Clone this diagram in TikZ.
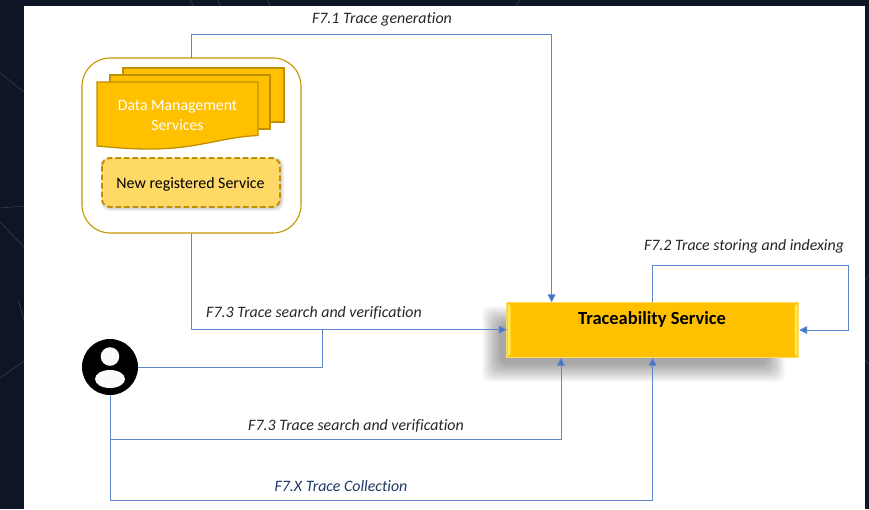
\documentclass[tikz,border=0pt]{standalone}
\usepackage{fontspec}
\setmainfont{Carlito}[Ligatures=NoCommon]
\usetikzlibrary{arrows.meta,calc}
\definecolor{bgdark}{HTML}{0E1626}
\definecolor{bgline}{HTML}{3A4252}
\definecolor{linkblue}{HTML}{4472C4}
\definecolor{gold}{HTML}{FFC000}
\definecolor{goldedge}{HTML}{BF9000}
\definecolor{lightgold}{HTML}{FFD966}
\definecolor{bevel}{HTML}{FFE94D}
\definecolor{navytext}{HTML}{1F3864}
\tikzset{
  x=1pt,y=-1pt,
  link/.style={draw=linkblue!85!white,line width=0.9pt},
  linkarrow/.style={link,-{Triangle[length=8pt,width=8pt,fill=linkblue]}},
  flowlabel/.style={font=\itshape\fontsize{15.9}{18}\selectfont,text=black!85,inner sep=0pt},
  docsheet/.style={draw=goldedge,line width=1.3pt,fill=gold},
  boxlabel/.style={inner sep=0pt,align=center}
}
\begin{document}
\begin{tikzpicture}
\useasboundingbox (0,0) rectangle (869,509);
\fill[bgdark] (0,0) rectangle (869,509);
\draw[bgline,line width=0.5pt] (0,73) -- (24,92) (0,208) -- (24,206) (0,222) -- (24,247) (0,378) -- (24,361) (18,300) -- (24,320);
\draw[bgline,line width=0.5pt] (190,0) -- (193,6) (218,0) -- (220,6) (268,0) -- (270,6) (520,0) -- (516,6) (865,280) -- (869,275) (865,360) -- (869,364);
\fill[white] (24,6) rectangle (865,509);
% connector anchors
\coordinate (groupTop) at (191.7,58);
\coordinate (groupBot) at (191.7,234);
\coordinate (c1) at (191.7,34.6);
\coordinate (c2) at (551.6,34.6);
\coordinate (c3) at (191.7,329.6);
\coordinate (c4) at (322.6,367);
\coordinate (c5) at (322.6,329.6);
\coordinate (c6) at (110,439);
\coordinate (c7) at (561,439);
\coordinate (c8) at (110,500);
\coordinate (c9) at (652.6,500);
\coordinate (c10) at (652.6,265.6);
\coordinate (c11) at (848.6,265.6);
\coordinate (c12) at (848.6,330);
% service shadow
\foreach \g in {-9,-8,...,9}{
  \fill[black,opacity=0.02,rounded corners=8pt] (491-\g,315-\g) rectangle (776+\g,373+\g);
}
% service box
\node[draw=none,fill=gold,minimum width=291pt,minimum height=55pt,inner sep=0pt] (svc) at (652.5,330) {};
\draw[lightgold,line width=1pt] (svc.south west) rectangle (svc.north east);
\fill[bevel] (507.5,303) -- (510.5,306) -- (510.5,354) -- (507.5,357) -- cycle;
\fill[bevel] (797.5,303) -- (794.5,306) -- (794.5,354) -- (797.5,357) -- cycle;
\node[boxlabel,font=\bfseries\fontsize{18.5}{20}\selectfont] (svcl) at (652,319.5) {Traceability Service};
% group
\draw[draw=goldedge!90!gold,line width=1.1pt,rounded corners=28pt,fill=white] (82,58) rectangle (301,233);
\node[inner sep=0pt,minimum size=0pt] (group) at (191.5,145.5) {};
% documents
\draw[docsheet] (123,68) rectangle (284,122);
\draw[docsheet] (110,75) rectangle (270,129);
\draw[docsheet] (97,82) -- (258,82) -- (258,135.5) .. controls (222,137) and (198,149) .. (150,149) .. controls (125,149) and (110,147) .. (97,146) -- cycle;
\node[boxlabel,text=white,font=\fontsize{15.8}{20}\selectfont] (dms) at (177.5,115.5) {Data Management\\[-0.5pt]Services};
% new service
\foreach \g in {-3,-2,...,3}{
  \fill[black,opacity=0.05,rounded corners=8pt] (104-\g,160-\g) rectangle (281+\g,208+\g);
}
\draw[draw=goldedge,line width=1.9pt,dash pattern=on 5.5pt off 3pt,fill=lightgold,rounded corners=8pt] (102,158) rectangle (280,207);
\node[boxlabel,text=black,font=\fontsize{15.9}{17}\selectfont] (newsvc) at (190.5,184) {New registered Service};
% person
\node[circle,fill=black,minimum size=56pt,inner sep=0pt] (user) at (110,367) {};
\fill[white!98!black] (110,356.5) circle (9.3pt);
\fill[white!98!black] (110,379) ellipse (15pt and 9pt);
% connectors
\draw[linkarrow] (groupTop) -- (c1) -- (c2) -- (c2 |- svc.north);
\draw[linkarrow] (groupBot) -- (c3) -- (c3 -| svc.west);
\draw[link] (user.east) -- (c4) -- (c5);
\draw[linkarrow] (user.south) -- (c6) -- (c7) -- (c7 |- svc.south);
\draw[linkarrow] (c6) -- (c8) -- (c9) -- (c9 |- svc.south);
\draw[linkarrow] (c10 |- svc.north) -- (c10) -- (c11) -- (c12) -- ($(c12 -| svc.east)+(1,0)$);
% labels
\node[flowlabel] (l1) at (382,19.5) {F7.1 Trace generation};
\node[flowlabel] (l2) at (744,246.5) {F7.2 Trace storing and indexing};
\node[flowlabel] (l3) at (314,312.5) {F7.3 Trace search and verification};
\node[flowlabel] (l4) at (356,425.5) {F7.3 Trace search and verification};
\node[flowlabel,text=navytext] (l5) at (341,486.5) {F7.X Trace Collection};
\end{tikzpicture}
\end{document}
